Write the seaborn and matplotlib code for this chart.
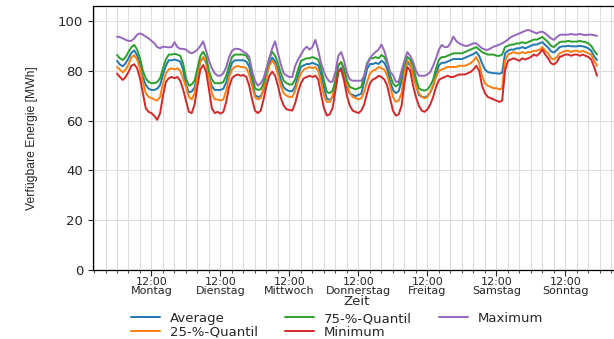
import pandas as pd
import matplotlib
matplotlib.use('Agg')
from matplotlib import pyplot as plt
import matplotlib.dates as mdates
from matplotlib.ticker import FuncFormatter
import seaborn as sns

# hourly values, Monday 00:00 .. Sunday 23:00 (one row per day)
average = [
    84.0, 82.5, 81.8, 83.0, 85.0, 87.2, 88.2, 86.2, 82.5, 77.5, 74.3, 72.8, 72.3, 72.3, 72.8, 74.3, 78.5, 82.0, 84.2, 84.2, 84.5, 84.2, 83.7, 80.5,
    74.3, 71.3, 71.7, 73.3, 78.5, 83.7, 85.3, 83.2, 77.5, 73.8, 72.3, 72.3, 72.3, 72.8, 75.3, 79.5, 83.2, 84.2, 84.2, 84.2, 84.2, 83.7, 81.7, 75.8,
    70.3, 69.5, 69.8, 72.3, 77.5, 82.7, 85.3, 83.7, 80.5, 76.3, 73.3, 72.3, 71.8, 71.8, 73.8, 78.0, 81.7, 82.2, 82.7, 82.7, 83.2, 82.7, 82.2, 78.5,
    73.3, 68.8, 68.3, 69.3, 73.3, 79.7, 81.2, 78.7, 73.3, 70.8, 70.3, 69.8, 70.3, 70.8, 75.5, 80.7, 82.7, 82.7, 83.2, 82.7, 84.0, 83.2, 80.7, 75.8,
    72.3, 71.0, 71.8, 75.8, 79.7, 83.3, 82.2, 79.7, 74.3, 70.3, 69.6, 69.3, 69.8, 71.3, 74.0, 78.7, 82.2, 83.2, 83.2, 83.7, 84.2, 84.7, 84.7, 84.7,
    84.7, 85.2, 85.7, 86.2, 86.7, 87.5, 86.0, 83.0, 80.5, 79.5, 79.2, 79.0, 79.0, 78.8, 79.2, 87.0, 88.0, 88.5, 88.5, 89.0, 89.0, 89.5, 89.0, 89.5,
    90.0, 90.5, 90.5, 91.0, 91.5, 90.3, 89.3, 87.8, 87.3, 88.3, 89.5, 89.8, 89.8, 90.0, 89.8, 89.8, 89.8, 90.0, 89.8, 89.5, 89.0, 88.0, 85.8, 84.3,
]
q25 = [
    81.5, 80.5, 79.3, 80.5, 82.5, 85.5, 86.2, 84.5, 81.0, 75.5, 71.0, 69.5, 69.0, 68.5, 68.0, 69.5, 75.0, 79.0, 80.5, 81.0, 80.5, 81.0, 80.0, 77.0,
    73.5, 69.5, 68.5, 71.0, 78.0, 84.0, 85.5, 83.5, 77.5, 71.0, 68.5, 68.5, 68.0, 68.5, 72.0, 77.5, 80.5, 81.5, 82.0, 81.5, 81.5, 81.0, 78.5, 74.0,
    69.5, 68.5, 69.0, 73.0, 78.0, 82.0, 84.0, 82.5, 78.5, 74.0, 71.0, 70.0, 69.5, 69.5, 72.0, 76.0, 79.0, 80.5, 81.0, 81.5, 81.0, 81.5, 80.0, 75.5,
    70.0, 67.5, 67.5, 70.0, 76.5, 82.5, 83.5, 80.0, 74.5, 71.0, 69.5, 69.0, 68.5, 69.0, 71.5, 75.5, 79.0, 80.0, 80.5, 81.5, 81.0, 80.5, 78.0, 74.0,
    69.5, 67.5, 68.0, 71.0, 79.0, 84.0, 83.0, 78.0, 74.0, 71.0, 69.5, 69.0, 69.5, 71.5, 74.0, 77.5, 80.0, 80.5, 81.0, 81.5, 81.5, 81.5, 81.5, 82.0,
    82.0, 82.0, 82.5, 83.0, 84.0, 85.5, 83.0, 78.0, 75.0, 74.0, 73.5, 73.0, 73.0, 72.5, 73.0, 84.0, 86.5, 87.0, 87.5, 87.0, 87.0, 87.5, 87.0, 87.5,
    87.5, 88.0, 88.0, 88.5, 89.5, 88.0, 87.0, 85.0, 84.5, 85.5, 87.0, 87.5, 88.0, 88.0, 87.5, 88.0, 88.0, 87.5, 88.0, 87.5, 87.0, 86.5, 84.0, 82.0,
]
q75 = [
    86.3, 85.0, 84.3, 85.5, 87.5, 89.5, 90.4, 88.5, 85.0, 80.0, 77.0, 75.5, 75.0, 75.0, 75.5, 77.0, 81.0, 84.5, 86.5, 86.5, 86.8, 86.5, 86.0, 83.0,
    77.0, 74.0, 74.5, 76.0, 81.0, 86.0, 87.6, 85.5, 80.0, 76.5, 75.0, 75.0, 75.0, 75.5, 78.0, 82.0, 85.5, 86.5, 86.5, 86.5, 86.5, 86.0, 84.0, 78.5,
    73.0, 72.3, 72.5, 75.0, 80.0, 85.0, 87.6, 86.0, 83.0, 79.0, 76.0, 75.0, 74.5, 74.5, 76.5, 80.5, 84.0, 84.5, 85.0, 85.0, 85.5, 85.0, 84.5, 81.0,
    76.0, 71.5, 71.0, 72.0, 76.0, 82.0, 83.5, 81.0, 76.0, 73.5, 73.0, 72.5, 73.0, 73.5, 78.0, 83.0, 85.0, 85.0, 85.5, 85.0, 86.3, 85.5, 83.0, 78.3,
    75.0, 73.7, 74.5, 78.3, 82.0, 85.6, 84.5, 82.0, 77.0, 73.0, 72.3, 72.0, 72.5, 74.0, 76.5, 81.0, 84.5, 85.5, 85.5, 86.0, 86.5, 87.0, 87.0, 87.0,
    87.0, 87.5, 88.0, 88.5, 89.0, 89.5, 88.5, 87.5, 87.0, 86.5, 86.5, 86.5, 86.0, 86.0, 86.5, 89.5, 90.0, 90.5, 90.5, 91.0, 91.0, 91.5, 91.0, 91.5,
    92.0, 92.5, 92.5, 93.0, 93.6, 92.5, 91.5, 90.0, 89.5, 90.5, 91.5, 91.7, 91.7, 92.0, 91.7, 91.7, 91.7, 92.0, 91.7, 91.5, 91.0, 90.0, 88.0, 86.5,
]
minimum = [
    78.9, 77.5, 76.3, 77.5, 79.5, 82.0, 82.6, 81.0, 77.0, 71.0, 65.0, 63.5, 63.0, 61.8, 60.3, 63.0, 70.0, 75.5, 77.0, 77.5, 77.0, 77.5, 76.0, 72.5,
    68.0, 63.5, 63.0, 66.5, 74.0, 80.5, 82.3, 79.6, 72.5, 65.0, 63.0, 63.5, 62.8, 63.5, 67.5, 73.5, 77.0, 78.0, 78.5, 78.0, 78.3, 77.5, 74.0, 68.5,
    64.0, 63.0, 64.0, 68.5, 74.0, 78.0, 79.6, 78.0, 74.0, 69.0, 66.0, 64.5, 64.3, 64.0, 67.0, 71.5, 75.0, 77.0, 77.5, 78.0, 77.5, 78.0, 76.5, 70.5,
    65.0, 62.0, 62.5, 65.0, 72.0, 79.5, 80.5, 76.0, 70.0, 66.0, 64.0, 63.5, 63.0, 64.0, 66.5, 71.0, 75.0, 76.5, 77.0, 78.0, 77.5, 76.5, 74.0, 69.0,
    64.0, 62.0, 62.5, 66.0, 75.0, 81.5, 80.0, 74.0, 69.5, 66.0, 64.0, 63.5, 64.5, 66.5, 69.5, 73.5, 76.3, 77.0, 77.5, 78.0, 77.5, 77.5, 78.0, 78.5,
    78.5, 78.5, 79.0, 79.5, 80.5, 82.0, 80.0, 74.0, 71.0, 69.5, 69.0, 68.5, 68.0, 67.5, 68.0, 80.0, 84.0, 84.5, 85.0, 84.5, 84.0, 85.0, 84.5, 85.0,
    85.5, 86.5, 86.0, 87.0, 88.5, 86.5, 85.0, 83.0, 82.5, 83.5, 85.5, 86.0, 86.5, 86.5, 86.0, 86.5, 86.5, 86.0, 86.5, 86.0, 85.5, 84.5, 81.5, 78.0,
]
maximum = [
    93.7, 93.5, 93.0, 92.4, 92.0, 92.0, 93.0, 94.5, 95.0, 94.5, 93.7, 93.0, 92.0, 91.0, 89.5, 89.0, 89.7, 89.5, 89.4, 89.5, 91.5, 89.5, 88.8, 88.8,
    88.5, 87.5, 87.0, 87.6, 88.5, 90.0, 91.8, 88.0, 84.0, 81.0, 79.0, 78.0, 78.0, 79.0, 81.5, 85.5, 88.0, 88.8, 88.8, 88.5, 87.6, 87.0, 85.6, 80.0,
    76.0, 74.0, 75.0, 77.0, 81.0, 85.0, 89.0, 91.8, 87.0, 82.5, 79.0, 78.0, 77.5, 77.5, 82.0, 84.5, 86.5, 88.5, 89.7, 88.5, 89.5, 92.4, 88.3, 83.0,
    79.6, 77.0, 75.6, 75.6, 79.5, 86.0, 87.5, 84.0, 79.0, 76.5, 76.0, 76.0, 76.0, 76.0, 78.0, 82.5, 85.0, 86.5, 87.6, 88.5, 90.5, 88.0, 84.0, 79.5,
    78.3, 75.6, 75.6, 80.0, 84.0, 87.5, 86.0, 83.6, 80.0, 78.0, 78.0, 78.0, 78.5, 79.5, 82.0, 85.0, 88.5, 90.4, 89.5, 89.5, 91.0, 93.7, 92.0, 91.0,
    90.5, 90.0, 90.0, 90.5, 91.0, 91.0, 90.0, 89.0, 88.5, 88.4, 89.0, 89.7, 90.0, 90.5, 91.0, 91.7, 92.5, 93.5, 94.0, 94.5, 95.0, 95.5, 96.0, 96.4,
    96.0, 95.5, 95.0, 95.5, 95.7, 95.0, 94.0, 93.0, 92.4, 93.5, 94.4, 94.5, 94.5, 94.5, 94.8, 94.5, 94.5, 94.8, 94.5, 94.3, 94.5, 94.5, 94.3, 94.0,
]

series_names = ['Average', '25-%-Quantil', '75-%-Quantil', 'Minimum', 'Maximum']
colors = ['#1f77b4', '#ff7f0e', '#2ca02c', '#d62728', '#9467bd']
weekdays = ['Montag', 'Dienstag', 'Mittwoch', 'Donnerstag', 'Freitag', 'Samstag', 'Sonntag']

zeit = pd.date_range('2023-01-02', periods=168, freq='h')
wide = pd.DataFrame({'Zeit': zeit, 'Average': average, '25-%-Quantil': q25,
                     '75-%-Quantil': q75, 'Minimum': minimum, 'Maximum': maximum})
df = wide.melt(id_vars='Zeit', var_name='Serie', value_name='Energie')

sns.set_style('ticks')
plt.rcParams['font.family'] = ['DejaVu Sans']

fig = plt.figure(figsize=(6.14, 3.39), dpi=100)
ax = fig.add_axes([93 / 614, 69 / 339, 528 / 614, 264 / 339])

sns.lineplot(data=df, x='Zeit', y='Energie', hue='Serie', hue_order=series_names,
             palette=colors, linewidth=1.4, ax=ax)

ax.set_ylim(0, 106)
ax.set_yticks([0, 20, 40, 60, 80, 100])
ax.xaxis.set_major_locator(mdates.HourLocator(byhour=12))
ax.xaxis.set_minor_locator(mdates.HourLocator(byhour=[0, 4, 8, 16, 20]))
ax.xaxis.set_major_formatter(FuncFormatter(
    lambda v, pos: mdates.num2date(v).strftime('%H:%M') + '\n' + weekdays[mdates.num2date(v).weekday()]))
ax.tick_params(axis='x', which='major', labelsize=8, length=4, pad=1)
ax.tick_params(axis='x', which='minor', length=2.5)
ax.tick_params(axis='y', labelsize=9.5)
fig.canvas.draw()
for lab in ax.get_xticklabels():
    lab.set_linespacing(0.85)

ax.grid(which='major', color='#dddddd', linewidth=0.8)
ax.grid(which='minor', axis='x', color='#dddddd', linewidth=0.8)
ax.set_axisbelow(True)
for s in ax.spines.values():
    s.set_color('black')
    s.set_linewidth(0.9)

ax.set_xlabel('Zeit', fontsize=9.5)
ax.xaxis.set_label_coords(0.5, -0.095)
ax.set_ylabel('Verfügbare Energie [MWh]', fontsize=8.7, family=['Liberation Sans', 'DejaVu Sans'])
ax.yaxis.set_label_coords(-0.105, 0.5)

handles, labels = ax.get_legend_handles_labels()
ax.get_legend().remove()
fig.legend(handles, labels, loc='center', bbox_to_anchor=(0.549, 0.040), ncol=3,
           frameon=False, fontsize=9.5, labelspacing=0.05, columnspacing=2.0,
           handlelength=2.2, handletextpad=0.8, borderaxespad=0, borderpad=0)

fig.savefig('out.png', dpi=100)
